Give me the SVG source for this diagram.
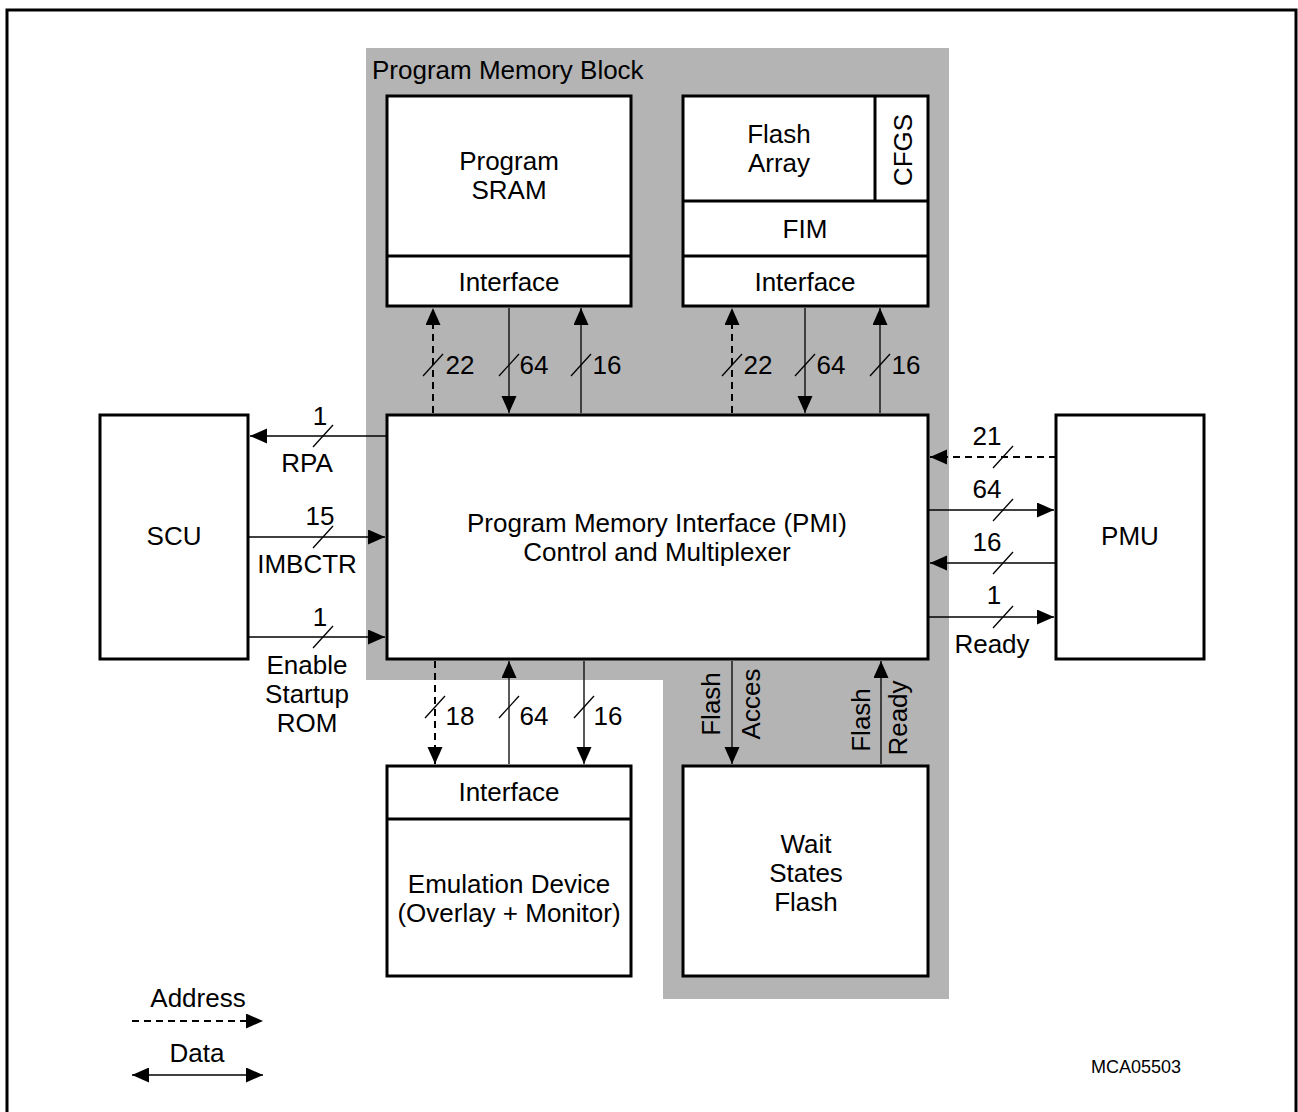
<svg xmlns="http://www.w3.org/2000/svg" width="1298" height="1112" viewBox="0 0 1298 1112">
<style>
text{font-family:"Liberation Sans",Arial,sans-serif;font-size:26px;fill:#000;text-anchor:middle}
.box{fill:#fff;stroke:#000;stroke-width:3}
.div{stroke:#000;stroke-width:3;fill:none}
.ln{stroke:#000;stroke-width:1.3;fill:none}
.dash{stroke:#000;stroke-width:2;fill:none;stroke-dasharray:7,5}
.sl{stroke:#000;stroke-width:1.3}
</style>
<defs>
<marker id="ah" markerUnits="userSpaceOnUse" markerWidth="18" markerHeight="16" refX="17" refY="7.5" orient="auto">
<path d="M0,0 L17,7.5 L0,15 z" fill="#000"/>
</marker>
<marker id="ahs" markerUnits="userSpaceOnUse" markerWidth="18" markerHeight="16" refX="0" refY="7.5" orient="auto">
<path d="M17,0 L0,7.5 L17,15 z" fill="#000"/>
</marker>
</defs>
<rect x="7" y="10" width="1289" height="1104" fill="#fff" stroke="#000" stroke-width="3"/>
<g id="program-memory-block">
<polygon points="366,48 949,48 949,999 663,999 663,680 366,680" fill="#b4b4b4"/>
<text x="372" y="79" style="text-anchor:start">Program Memory Block</text>
</g>
<g id="program-sram">
<rect class="box" x="387" y="96" width="244" height="210"/>
<line class="div" x1="387" y1="256" x2="631" y2="256"/>
<text x="509" y="170">Program</text>
<text x="509" y="199">SRAM</text>
<text x="509" y="291">Interface</text>
</g>
<g id="flash">
<rect class="box" x="683" y="96" width="245" height="210"/>
<line class="div" x1="683" y1="201" x2="928" y2="201"/>
<line class="div" x1="683" y1="256" x2="928" y2="256"/>
<line class="div" x1="875" y1="96" x2="875" y2="201"/>
<text x="779" y="143">Flash</text>
<text x="779" y="172">Array</text>
<text transform="translate(912,150) rotate(-90)">CFGS</text>
<text x="805" y="238">FIM</text>
<text x="805" y="291">Interface</text>
</g>
<g id="pmi">
<rect class="box" x="387" y="415" width="541" height="244"/>
<text x="657" y="532">Program Memory Interface (PMI)</text>
<text x="657" y="561">Control and Multiplexer</text>
</g>
<g id="scu">
<rect class="box" x="100" y="415" width="148" height="244"/>
<text x="174" y="545">SCU</text>
</g>
<g id="pmu">
<rect class="box" x="1056" y="415" width="148" height="244"/>
<text x="1130" y="545">PMU</text>
</g>
<g id="emulation">
<rect class="box" x="387" y="766" width="244" height="210"/>
<line class="div" x1="387" y1="819" x2="631" y2="819"/>
<text x="509" y="801">Interface</text>
<text x="509" y="893">Emulation Device</text>
<text x="509" y="922">(Overlay + Monitor)</text>
</g>
<g id="wait-states">
<rect class="box" x="683" y="766" width="245" height="210"/>
<text x="806" y="853">Wait</text>
<text x="806" y="882">States</text>
<text x="806" y="911">Flash</text>
</g>
<g id="connectors">
<line class="dash" x1="433" y1="413" x2="433" y2="308" marker-end="url(#ah)"/>
<line class="ln" x1="509" y1="308" x2="509" y2="413" marker-end="url(#ah)"/>
<line class="ln" x1="581" y1="413" x2="581" y2="308" marker-end="url(#ah)"/>
<line class="sl" x1="423" y1="376" x2="443" y2="354"/>
<line class="sl" x1="499" y1="376" x2="519" y2="354"/>
<line class="sl" x1="571" y1="376" x2="591" y2="354"/>
<text x="460" y="374">22</text>
<text x="534" y="374">64</text>
<text x="607" y="374">16</text>
<line class="dash" x1="732" y1="413" x2="732" y2="308" marker-end="url(#ah)"/>
<line class="ln" x1="805" y1="308" x2="805" y2="413" marker-end="url(#ah)"/>
<line class="ln" x1="880" y1="413" x2="880" y2="308" marker-end="url(#ah)"/>
<line class="sl" x1="722" y1="376" x2="742" y2="354"/>
<line class="sl" x1="795" y1="376" x2="815" y2="354"/>
<line class="sl" x1="870" y1="376" x2="890" y2="354"/>
<text x="758" y="374">22</text>
<text x="831" y="374">64</text>
<text x="906" y="374">16</text>
<line class="ln" x1="387" y1="436" x2="250" y2="436" marker-end="url(#ah)"/>
<line class="ln" x1="248" y1="537" x2="385" y2="537" marker-end="url(#ah)"/>
<line class="ln" x1="248" y1="637" x2="385" y2="637" marker-end="url(#ah)"/>
<line class="sl" x1="313" y1="447" x2="333" y2="425"/>
<line class="sl" x1="313" y1="548" x2="333" y2="526"/>
<line class="sl" x1="313" y1="648" x2="333" y2="626"/>
<text x="320" y="425">1</text>
<text x="307" y="472">RPA</text>
<text x="320" y="525">15</text>
<text x="307" y="573">IMBCTR</text>
<text x="320" y="626">1</text>
<text x="307" y="674">Enable</text>
<text x="307" y="703">Startup</text>
<text x="307" y="732">ROM</text>
<line class="dash" x1="1056" y1="457" x2="930" y2="457" marker-end="url(#ah)"/>
<line class="ln" x1="928" y1="510" x2="1054" y2="510" marker-end="url(#ah)"/>
<line class="ln" x1="1056" y1="563" x2="930" y2="563" marker-end="url(#ah)"/>
<line class="ln" x1="928" y1="617" x2="1054" y2="617" marker-end="url(#ah)"/>
<line class="sl" x1="993" y1="468" x2="1013" y2="446"/>
<line class="sl" x1="993" y1="521" x2="1013" y2="499"/>
<line class="sl" x1="993" y1="574" x2="1013" y2="552"/>
<line class="sl" x1="993" y1="628" x2="1013" y2="606"/>
<text x="987" y="445">21</text>
<text x="987" y="498">64</text>
<text x="987" y="551">16</text>
<text x="994" y="604">1</text>
<text x="992" y="653">Ready</text>
<line class="dash" x1="435" y1="661" x2="435" y2="764" marker-end="url(#ah)"/>
<line class="ln" x1="509" y1="764" x2="509" y2="661" marker-end="url(#ah)"/>
<line class="ln" x1="584" y1="661" x2="584" y2="764" marker-end="url(#ah)"/>
<line class="sl" x1="425" y1="718" x2="445" y2="696"/>
<line class="sl" x1="499" y1="718" x2="519" y2="696"/>
<line class="sl" x1="574" y1="718" x2="594" y2="696"/>
<text x="460" y="725">18</text>
<text x="534" y="725">64</text>
<text x="608" y="725">16</text>
<line class="ln" x1="732" y1="661" x2="732" y2="764" marker-end="url(#ah)"/>
<line class="ln" x1="881" y1="764" x2="881" y2="661" marker-end="url(#ah)"/>
<text transform="translate(720,704) rotate(-90)">Flash</text>
<text transform="translate(760,704) rotate(-90)">Acces</text>
<text transform="translate(870,720) rotate(-90)">Flash</text>
<text transform="translate(907,718) rotate(-90)">Ready</text>
</g>
<g id="legend">
<line class="dash" x1="132" y1="1021" x2="263" y2="1021" marker-end="url(#ah)"/>
<text x="198" y="1007">Address</text>
<line class="ln" x1="132" y1="1075" x2="263" y2="1075" marker-start="url(#ahs)" marker-end="url(#ah)"/>
<text x="197" y="1062">Data</text>
</g>
<text x="1136" y="1073" style="font-size:18px">MCA05503</text>
</svg>
